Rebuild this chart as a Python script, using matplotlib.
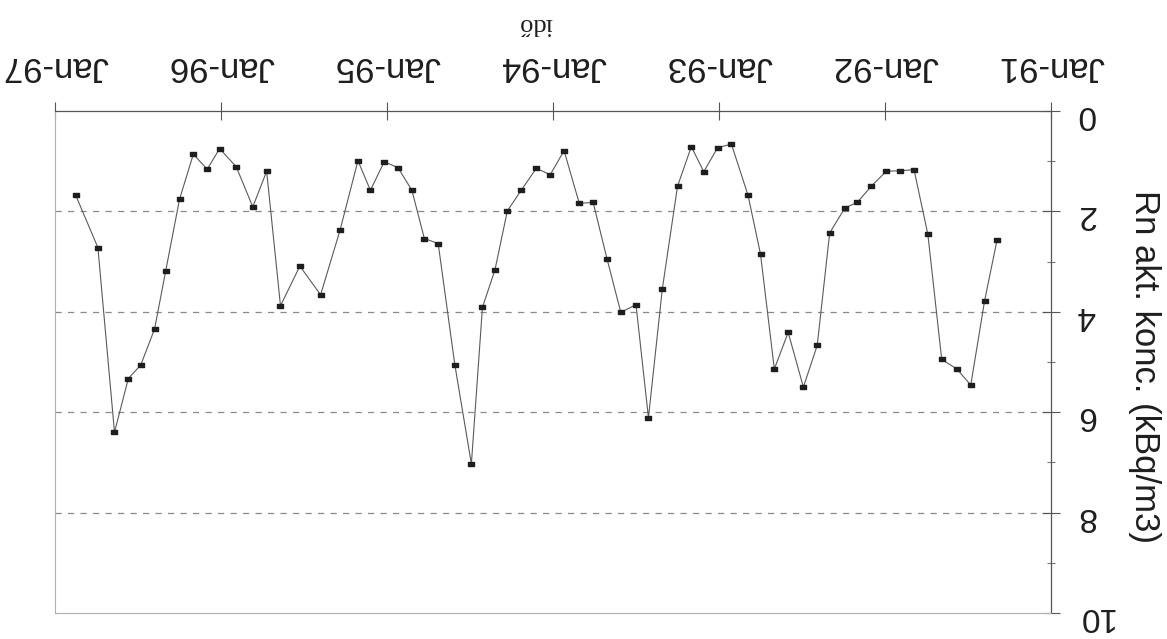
import matplotlib
matplotlib.use("Agg")
import matplotlib.pyplot as plt
from matplotlib.ticker import FixedLocator

plt.rcParams['font.family'] = ['Liberation Sans', 'DejaVu Sans']

# months after January 1991 at which each sample sits
months = [3.9, 4.8, 5.8, 6.8, 7.9, 8.9, 9.9, 10.9, 11.9, 13.0,
          14.0, 14.9, 16.0, 16.9, 17.9, 19.0, 20.0, 21.0, 21.9, 23.1,
          24.1, 25.1, 26.0, 27.0, 28.1, 29.1, 30.0, 31.1, 32.1, 33.1,
          34.1, 35.2, 36.2, 37.2, 38.3, 39.3, 40.2, 41.1, 41.9, 43.1,
          44.3, 45.3, 46.2, 47.2, 48.2, 49.2, 50.1, 51.4, 52.8, 54.3,
          55.7, 56.7, 57.7, 58.9, 60.1, 61.0, 62.0, 63.0, 64.0, 64.8,
          65.8, 66.7, 67.7, 68.9, 70.5]
# Rn activity concentration (kBq/m3)
values = [2.57, 3.78, 5.46, 5.14, 4.95, 2.46, 1.17, 1.19, 1.20, 1.50,
          1.82, 1.93, 2.43, 4.67, 5.50, 4.41, 5.14, 2.85, 1.68, 0.66,
          0.73, 1.21, 0.71, 1.50, 3.55, 6.11, 3.86, 4.01, 2.94, 1.82,
          1.84, 0.79, 1.27, 1.14, 1.58, 1.99, 3.17, 3.91, 7.03, 5.05,
          2.64, 2.54, 1.58, 1.13, 1.01, 1.58, 0.99, 2.38, 3.66, 3.09,
          3.88, 1.20, 1.91, 1.11, 0.75, 1.16, 0.86, 1.76, 3.19, 4.34,
          5.06, 5.33, 6.40, 2.72, 1.68]

x_years = [1991, 1992, 1993, 1994, 1995, 1996, 1997]
x_labels = ["Jan-91", "Jan-92", "Jan-93", "Jan-94", "Jan-95", "Jan-96", "Jan-97"]
y_major = [0, 2, 4, 6, 8, 10]
y_labels = ["0", "2", "4", "6", "8", "10"]
y_minor = [1, 3, 5, 7, 9]
y_grid = [2, 4, 6, 8]

x_title = "idő"
y_title = "Rn akt. konc. (kBq/m3)"

W, H = 1167, 639
fig = plt.figure(figsize=(W / 100, H / 100), dpi=100)
fig.patch.set_facecolor("white")
ax = fig.add_axes([55 / W, 1 - 613 / H, 996 / W, 502 / H])

t = [1991 + m / 12 for m in months]
rect = [(-1.5, -1), (1.5, -1), (1.5, 1), (-1.5, 1), (-1.5, -1)]
ax.plot(t, values, color="#5a5a5a", lw=0.8, marker=rect, ms=5,
        mfc="#1e1e1e", mec="#1e1e1e", zorder=3)

for g in y_grid:
    ax.axhline(g, color="#8a8a8a", lw=0.9, ls=(0, (5, 5)), zorder=1)

ax.set_xlim(1997, 1991)
ax.set_ylim(10, 0)
ax.xaxis.tick_top()
ax.yaxis.tick_right()

ax.set_xticks(x_years)
ax.set_xticklabels(x_labels, rotation=180, fontsize=25, color="#1e1e1e")
ax.set_yticks(y_major)
ax.set_yticklabels(y_labels, rotation=180, fontsize=24, color="#1e1e1e")
ax.yaxis.set_minor_locator(FixedLocator(y_minor))

ax.tick_params(axis="x", direction="inout", length=13, width=0.8, color="#555555", pad=14)
ax.tick_params(axis="y", which="major", direction="inout", length=13, width=0.8, color="#555555", pad=12)
ax.tick_params(axis="y", which="minor", direction="inout", length=6, width=0.8, color="#777777")

for side in ["top", "right"]:
    ax.spines[side].set_color("#555555")
    ax.spines[side].set_linewidth(0.9)
for side in ["left", "bottom"]:
    ax.spines[side].set_color("#b0b0b0")
    ax.spines[side].set_linewidth(0.8)

fig.text(1145 / W, 1 - 367 / H, y_title, rotation=270, fontsize=25,
         ha="center", va="center", color="#1e1e1e")
fig.text(535 / W, 1 - 24 / H, x_title, rotation=180, fontsize=19,
         ha="center", va="center", color="#1e1e1e", family=["Liberation Serif", "DejaVu Serif"])

fig.savefig("out.png", dpi=100, facecolor="white")
